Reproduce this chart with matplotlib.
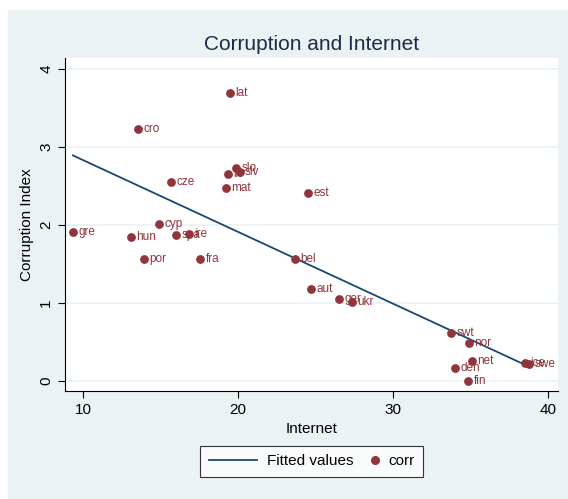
import matplotlib.pyplot as plt
import matplotlib.patches as patches
from matplotlib.lines import Line2D
from matplotlib.legend_handler import HandlerLine2D
import numpy as np

plt.rcParams['font.family'] = ['Liberation Sans Narrow', 'Liberation Sans', 'DejaVu Sans']

countries = ['lat', 'cro', 'lit', 'slo', 'slv', 'mat', 'est', 'cze', 'cyp', 'gre',
             'hun', 'spa', 'ire', 'por', 'fra', 'bel', 'aut', 'ger', 'ukr', 'swt',
             'nor', 'net', 'den', 'fin', 'ice', 'swe']
internet = [19.48, 13.55, 19.35, 19.87, 20.10, 19.23, 24.50, 15.68, 14.90, 9.35,
            13.10, 16.00, 16.84, 13.94, 17.55, 23.68, 24.70, 26.50, 27.35, 33.74,
            34.90, 35.10, 34.00, 34.84, 38.50, 38.77]
corr = [3.69, 3.23, 2.65, 2.73, 2.68, 2.47, 2.41, 2.55, 2.01, 1.91,
        1.85, 1.87, 1.88, 1.56, 1.56, 1.56, 1.18, 1.05, 1.01, 0.62,
        0.49, 0.26, 0.17, 0.00, 0.23, 0.22]

bg = '#eaf2f3'
maroon = '#90353b'
navy = '#1a476f'


class DotRight(HandlerLine2D):
    # put the single legend marker at the right end of its handle box
    def get_xdata(self, legend, xdescent, ydescent, width, height, fontsize):
        xm = -xdescent + width - 3
        return [xm, xm], [xm]


fig = plt.figure(figsize=[5.68, 4.99], dpi=100)
fig.patches.append(patches.Rectangle((8 / 568, 0), 1, 1 - 10 / 499,
                                     transform=fig.transFigure, color=bg, zorder=-1))
ax = fig.add_axes([65 / 568, 1 - 391 / 499, 493 / 568, 333 / 499])

# fitted line from OLS on the data
x = np.array(internet)
y = np.array(corr)
b, a = np.polyfit(x, y, 1)
xf = np.array([x.min(), x.max()])
ax.plot(xf, a + b * xf, color=navy, lw=1.3, zorder=3)
ax.scatter(x, y, s=28, color=maroon, zorder=4)
for c, xi, yi in zip(countries, internet, corr):
    ax.annotate(c, (xi, yi), xytext=(4, 0), textcoords='offset points',
                va='center', ha='left', fontsize=8.5, color=maroon, zorder=5)

ax.set_xlim(8.84, 40.65)
ax.set_ylim(-0.128, 4.14)
ax.set_xticks([10, 20, 30, 40])
ax.set_yticks([0, 1, 2, 3, 4])
ax.yaxis.grid(True, color=bg, lw=1.2)
ax.set_axisbelow(True)
for s in ['top', 'right']:
    ax.spines[s].set_visible(False)
ax.tick_params(direction='out', length=5, labelsize=11)
plt.setp(ax.get_yticklabels(), rotation=90, va='center')
ax.set_xlabel('Internet', fontsize=11)
ax.set_ylabel('Corruption Index', fontsize=11)
ax.set_title('Corruption and Internet', fontsize=15, color='#1e2a4a', pad=6)

h_line = Line2D([], [], color=navy, lw=1.3)
h_dot = Line2D([], [], color=maroon, marker='o', ls='none', markersize=5.5)
leg = ax.legend([h_line, h_dot], ['Fitted values', 'corr'],
                handler_map={h_dot: DotRight(numpoints=1)},
                loc='upper center', bbox_to_anchor=(0.5, -0.142), ncol=2,
                frameon=True, fancybox=False, edgecolor='black', fontsize=11,
                handlelength=3.2, handletextpad=0.6, columnspacing=-1.5,
                borderpad=0.55)
leg.get_frame().set_linewidth(0.8)

plt.savefig('out.png', dpi=100, facecolor='white')
